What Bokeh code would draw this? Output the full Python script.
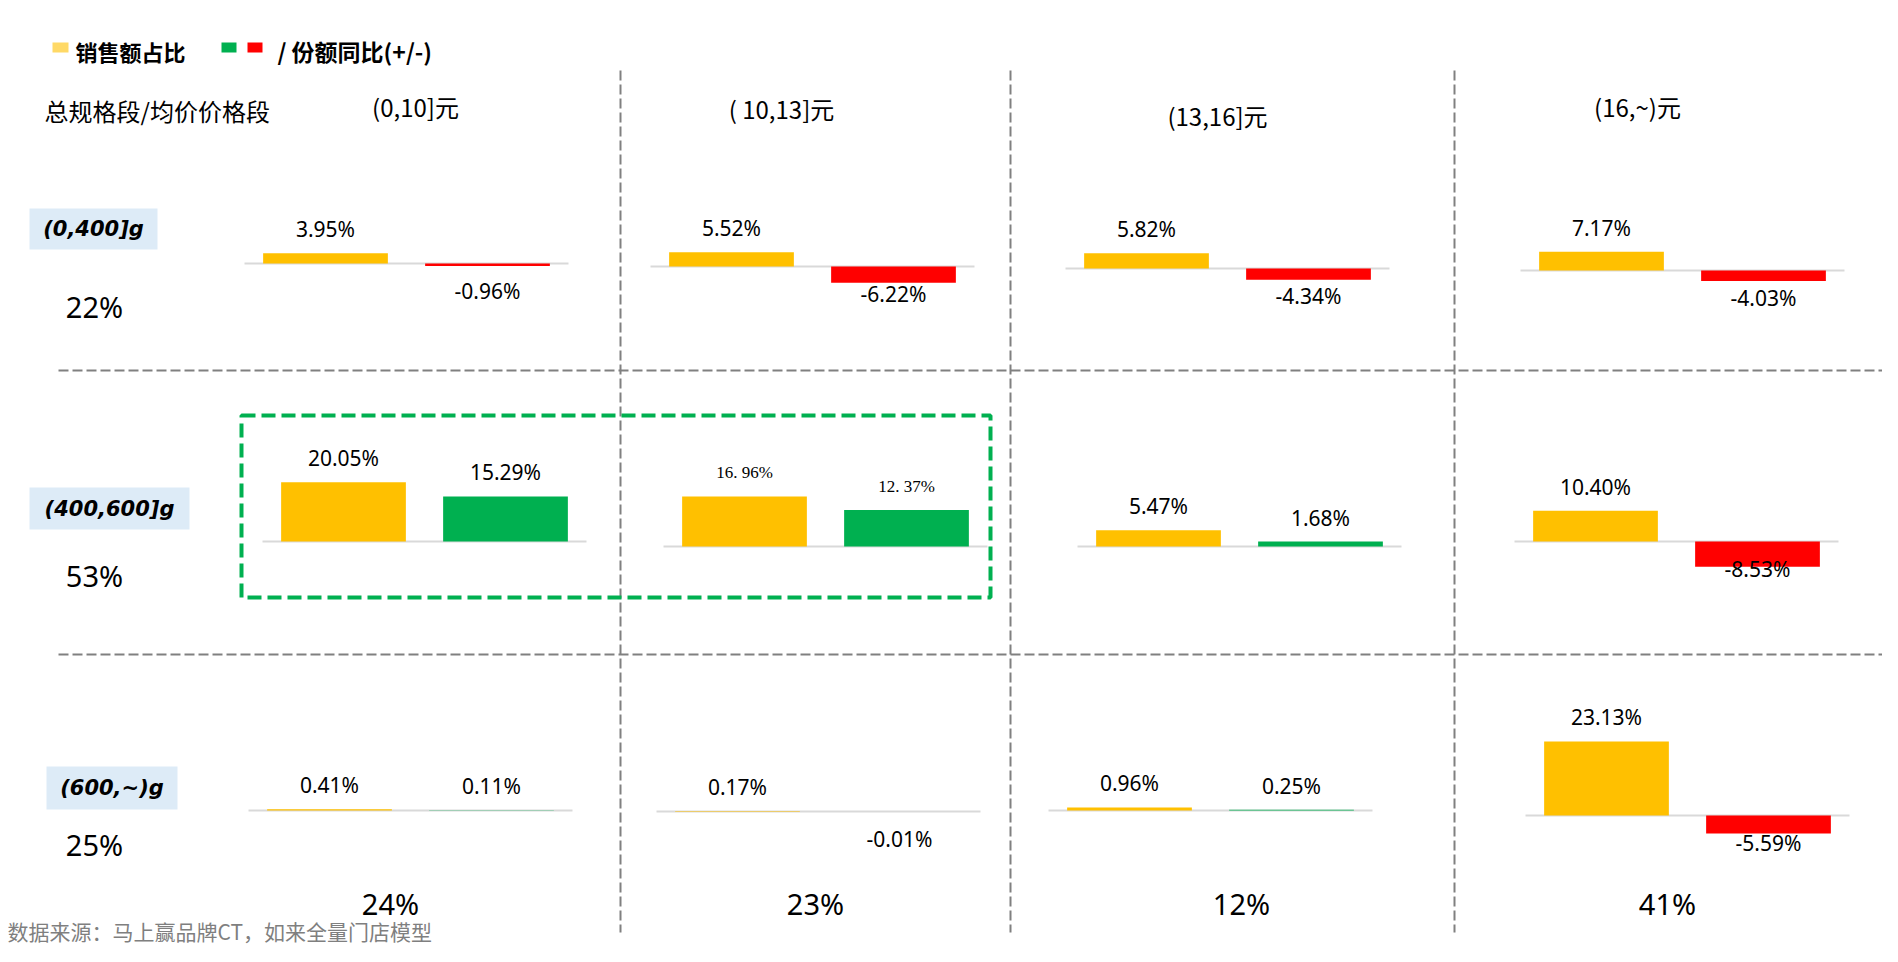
from bokeh.plotting import figure
from bokeh.models import Range1d, ColumnDataSource
from bokeh.core.properties import value
from bokeh.embed import file_html
from bokeh.resources import INLINE

# ---------------- data ----------------
price_bands = ["(0,10]元", "( 10,13]元", "(13,16]元", "(16,~)元"]
size_bands = ["(0,400]g", "(400,600]g", "(600,~)g"]
size_share = ["22%", "53%", "25%"]
price_share = ["24%", "23%", "12%", "41%"]
sales_share = [
    [3.95, 5.52, 5.82, 7.17],
    [20.05, 16.96, 5.47, 10.40],
    [0.41, 0.17, 0.96, 23.13],
]
share_yoy = [
    [-0.96, -6.22, -4.34, -4.03],
    [15.29, 12.37, 1.68, -8.53],
    [0.11, -0.01, 0.25, -5.59],
]
legend_sales = "销售额占比"
legend_yoy = "/ 份额同比(+/-)"
corner_label = "总规格段/均价价格段"
source_note = "数据来源：马上赢品牌CT，如来全量门店模型"

# ---------------- layout / style ----------------
YELLOW = "#FFC000"
GREEN = "#00B050"
RED = "#FF0000"
W, H = 1882, 946
CJK = value("Noto Sans CJK SC")
NUM = value("Noto Sans")
O = 0  # page-to-data offset

bar_center_x = [[325, 731, 1146, 1601], [343, 744, 1158, 1595], [329, 737, 1129, 1606]]
baseline_y = [[263, 266, 268, 270], [541, 546, 546, 541], [810, 811, 810, 815]]
px_per_pct = [2.6, 2.95, 3.2]
pitch = 162.0
serif_cells = {(1, 1)}

p = figure(width=W, height=H, output_backend="svg", toolbar_location=None,
           x_range=Range1d(O, O + W), y_range=Range1d(O + H, O),
           x_axis_location=None, y_axis_location=None, min_border=0)
p.grid.visible = False
p.outline_line_color = None

# dashed grid
for gx in [620, 1010, 1454]:
    p.line(x=[gx, gx], y=[70, 932], line_color="#808080", line_width=2, line_dash="10 4")
for gy in [370, 654]:
    p.line(x=[58, 1886], y=[gy, gy], line_color="#808080", line_width=2, line_dash="10 4")

# highlight box
p.quad(left=[241], right=[990], top=[415], bottom=[597], fill_color=None,
       line_color=GREEN, line_width=4, line_dash="14 6")

# legend
p.quad(left=[52], right=[68], top=[42], bottom=[52], fill_color="#FFD966", line_color=None)
p.text(x=[75], y=[50], text=[legend_sales], text_font=CJK, text_font_size="22px",
       text_font_style="bold", text_baseline="middle", text_align="left", text_color="black")
p.quad(left=[221], right=[236], top=[42], bottom=[52], fill_color=GREEN, line_color=None)
p.quad(left=[247], right=[262], top=[42], bottom=[52], fill_color=RED, line_color=None)
p.text(x=[277], y=[50], text=[legend_yoy], text_font=CJK, text_font_size="23px",
       text_font_style="bold", text_baseline="middle", text_align="left", text_color="black")

# corner + column headers
p.text(x=[44], y=[110], text=[corner_label], text_font=CJK, text_font_size="24px",
       text_baseline="middle", text_align="left", text_color="black")
header_xy = [(415, 106), (781, 108), (1217, 115), (1637, 106)]
for (hx, hy), lab in zip(header_xy, price_bands):
    p.text(x=[hx], y=[hy], text=[lab], text_font=CJK, text_font_size="24px",
           text_baseline="middle", text_align="center", text_color="black")

# row labels
row_boxes = [(29, 157, 208, 249), (29, 189, 487, 529), (46, 177, 766, 809)]
row_pct_y = [306, 575, 844]
for (l, r, t, b), lab, pct, py in zip(row_boxes, size_bands, size_share, row_pct_y):
    p.quad(left=[l], right=[r], top=[t], bottom=[b], fill_color="#DDEBF7", line_color=None)
    p.text(x=[(l + r) / 2], y=[(t + b) / 2], text=[lab], text_font=value("DejaVu Sans"),
           text_font_size="21px", text_font_style="bold italic", text_baseline="middle",
           text_align="center", text_color="black")
    p.text(x=[94], y=[py], text=[pct], text_font=NUM, text_font_size="29px",
           text_baseline="middle", text_align="center", text_color="black")

# column share at bottom
for cx, pct in zip([390, 815, 1241, 1667], price_share):
    p.text(x=[cx], y=[903], text=[pct], text_font=NUM, text_font_size="29px",
           text_baseline="middle", text_align="center", text_color="black")

# source note
p.text(x=[7], y=[930], text=[source_note], text_font=CJK, text_font_size="21px",
       text_baseline="middle", text_align="left", text_color="#7F7F7F")

# cells
for r in range(3):
    k = px_per_pct[r]
    for c in range(4):
        C = bar_center_x[r][c]
        B = baseline_y[r][c]
        xn, yn = f"x{r}{c}", f"y{r}{c}"
        p.extra_x_ranges[xn] = Range1d((O - C) / pitch, (O + W - C) / pitch)
        p.extra_y_ranges[yn] = Range1d((B - (O + H)) / k, (B - O) / k)
        s = sales_share[r][c]
        y = share_yoy[r][c]
        p.segment(x0=[-0.5], y0=[0], x1=[1.5], y1=[0], line_color="#D9D9D9", line_width=2,
                  x_range_name=xn, y_range_name=yn)
        src = ColumnDataSource(dict(x=[0, 1], top=[s, y],
                                    color=[YELLOW, GREEN if y >= 0 else RED]))
        p.vbar(x="x", top="top", bottom=0, width=0.77, fill_color="color", line_color=None,
               source=src, x_range_name=xn, y_range_name=yn)
        if (r, c) in serif_cells:
            font, size = value("Liberation Serif"), "17px"
            labels = [f"{s:.2f}%".replace(".", ". "), f"{y:.2f}%".replace(".", ". ")]
        else:
            font, size = NUM, "21px"
            labels = [f"{s:.2f}%", f"{y:.2f}%"]
        for xi, v, lab in zip([0, 1], [s, y], labels):
            if v >= 0:
                yy, off = v, -24
            else:
                yy, off = 0, 27
            p.text(x=[xi], y=[yy], text=[lab], y_offset=off, text_font=font,
                   text_font_size=size, text_baseline="middle", text_align="center",
                   text_color="black", x_range_name=xn, y_range_name=yn)

open("out.html", "w").write(file_html(p, INLINE))
